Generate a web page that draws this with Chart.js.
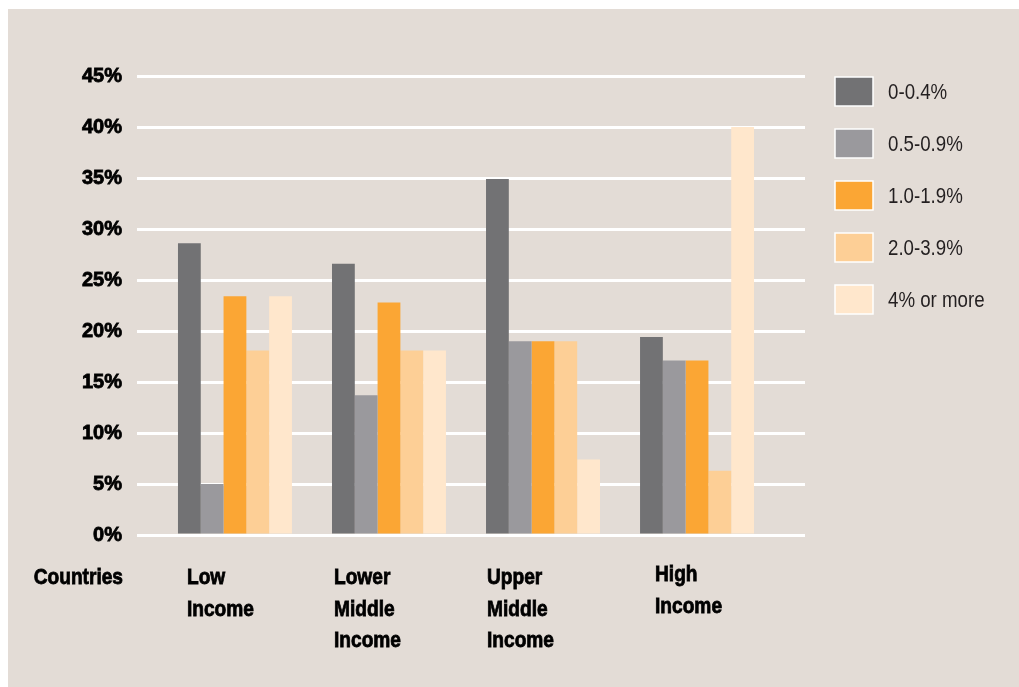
<!DOCTYPE html>
<html>
<head>
<meta charset="utf-8">
<script src="https://cdn.jsdelivr.net/npm/chart.js@4.4.1/dist/chart.umd.min.js"></script>
<style>
  html, body { margin: 0; padding: 0; background: #ffffff; }
  #panel { position: absolute; left: 8px; top: 9px; width: 1011px; height: 678px; background: #e3dcd6; }
</style>
</head>
<body>
<div id="panel"><canvas id="chart"></canvas></div>
<script>
// data (share of countries, %)
const categories = [['Low', 'Income'], ['Lower', 'Middle', 'Income'], ['Upper', 'Middle', 'Income'], ['High', 'Income']];
const seriesLabels = ['0-0.4%', '0.5-0.9%', '1.0-1.9%', '2.0-3.9%', '4% or more'];
const share0to04 = [28.6, 26.6, 34.9, 19.4];
const share05to09 = [5.0, 13.7, 19.0, 17.1];
const share10to19 = [23.4, 22.8, 19.0, 17.1];
const share20to39 = [18.1, 18.1, 19.0, 6.3];
const share4plus = [23.4, 18.1, 7.4, 40.0];
const yTickValues = [0, 5, 10, 15, 20, 25, 30, 35, 40, 45];
const axisTitle = 'Countries';

const colors = ['#727274', '#9a999d', '#fba634', '#fdcf96', '#ffe7cc'];
const FONT = '"Liberation Sans", Arial, sans-serif';

const allSeries = [share0to04, share05to09, share10to19, share20to39, share4plus];

const datasets = allSeries.map((vals, s) => ({
    label: seriesLabels[s],
    data: vals.map((v, i) => ({ x: i, y: v })),
    backgroundColor: colors[s],
    borderWidth: 0,
    categoryPercentage: 0.74,
    barPercentage: 1.0,
}));

// fake a condensed face by squeezing the text horizontally
function squeezedText(ctx, text, x, y, sx, stroke) {
    ctx.save();
    ctx.translate(x, y);
    ctx.scale(sx, 1);
    if (stroke) ctx.strokeText(text, 0, 0);
    ctx.fillText(text, 0, 0);
    ctx.restore();
}

// legend on the right, boxes with a thin white edge
const sideLegend = {
    id: 'sideLegend',
    afterDraw(chart) {
        const ctx = chart.ctx;
        const area = chart.chartArea;
        const bx = area.right + 30;
        ctx.save();
        ctx.font = '400 22px ' + FONT;
        ctx.textAlign = 'left';
        ctx.textBaseline = 'middle';
        chart.data.datasets.forEach((ds, i) => {
            const by = area.top + 1 + i * 52;
            ctx.fillStyle = ds.backgroundColor;
            ctx.fillRect(bx, by, 38, 29);
            ctx.strokeStyle = '#ffffff';
            ctx.lineWidth = 1.5;
            ctx.strokeRect(bx, by, 38, 29);
            ctx.fillStyle = '#231f20';
            squeezedText(ctx, ds.label, bx + 53, by + 16, 0.85, false);
        });
        ctx.restore();
    }
};

// multi-line category labels under the groups, plus the "Countries" caption
const categoryLabels = {
    id: 'categoryLabels',
    afterDraw(chart) {
        const ctx = chart.ctx;
        const xs = chart.scales.x;
        const area = chart.chartArea;
        const shiftX = [-48, -55, -56, -42];
        const shiftY = [0, 0, 0, -3];
        const base = area.bottom + 49;
        ctx.save();
        ctx.font = '700 22px ' + FONT;
        ctx.fillStyle = '#000000';
        ctx.strokeStyle = '#000000';
        ctx.lineWidth = 0.8;
        ctx.textBaseline = 'alphabetic';
        ctx.textAlign = 'right';
        squeezedText(ctx, axisTitle, area.left - 14, base, 0.87, true);
        ctx.textAlign = 'left';
        categories.forEach((lines, i) => {
            const x = xs.getPixelForValue(i) + shiftX[i];
            lines.forEach((line, j) => {
                squeezedText(ctx, line, x, base + shiftY[i] + j * 31.5, 0.87, true);
            });
        });
        ctx.restore();
    }
};

new Chart(document.getElementById('chart'), {
    type: 'bar',
    data: { datasets },
    options: {
        responsive: true,
        maintainAspectRatio: false,
        animation: false,
        layout: { padding: { left: 0, top: 67, right: 214, bottom: 152 } },
        plugins: {
            legend: { display: false },
            tooltip: { enabled: false },
        },
        scales: {
            x: {
                type: 'linear',
                offset: false,
                min: -0.636,
                max: 3.701,
                display: false,
                afterBuildTicks: scale => { scale.ticks = categories.map((c, i) => ({ value: i })); },
            },
            y: {
                min: 0,
                max: 45,
                afterBuildTicks: scale => { scale.ticks = yTickValues.map(v => ({ value: v })); },
                afterFit: scale => { scale.width = 129; },
                border: { display: false },
                grid: { color: '#ffffff', lineWidth: 3, drawTicks: false },
                ticks: {
                    padding: 15,
                    color: '#000000',
                    textStrokeColor: '#000000',
                    textStrokeWidth: 0.8,
                    font: { family: FONT, size: 20, weight: '700' },
                    callback: v => v + '%',
                },
            },
        },
    },
    plugins: [sideLegend, categoryLabels],
});
</script>
</body>
</html>
